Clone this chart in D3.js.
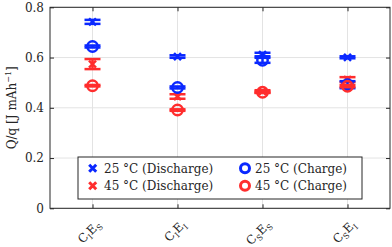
<!DOCTYPE html>
<html><head><meta charset="utf-8">
<script src="https://cdn.jsdelivr.net/npm/d3@7"></script>
<style>
html,body{margin:0;padding:0;background:#fff;}
svg{display:block;}
svg text{font-family:"DejaVu Serif",serif !important;fill:#262626;}
</style></head>
<body>
<script>
const categories = [["C","I","E","S"],["C","I","E","I"],["C","S","E","S"],["C","S","E","I"]];
const dis25 = [0.742, 0.604, 0.612, 0.601];
const dis25Err = [0.008, 0.005, 0.007, 0.004];
const dis45 = [0.574, 0.445, 0.465, 0.512];
const dis45Err = [0.020, 0.009, 0.005, 0.010];
const chg25 = [0.644, 0.481, 0.589, 0.492];
const chg25Err = [0.004, 0.004, 0.010, 0.014];
const chg45 = [0.488, 0.391, 0.462, 0.486];
const chg45Err = [0.003, 0.003, 0.003, 0.004];
const yTicks = [0, 0.2, 0.4, 0.6, 0.8];
const legendLabels = ["25 °C (Discharge)","45 °C (Discharge)","25 °C (Charge)","45 °C (Charge)"];

const W = 392, H = 247;
const blue = "#0a28ff", red = "#ff2d2d", axisC = "#262626";
const svg = d3.select("body").append("svg").attr("width", W).attr("height", H);
const L = 50, R = 390, T = 7.3, B = 208.3;
const x = d3.scaleLinear().domain([0.5, 4.5]).range([L, R]);
const y = d3.scaleLinear().domain([0, 0.8]).range([B, T]);
const idx = d3.range(categories.length);
const FS = 12;

// grid
const grid = svg.append("g").attr("stroke", "#e3e3e3").attr("stroke-width", 1);
idx.forEach(i => grid.append("line").attr("x1", x(i+1)).attr("x2", x(i+1)).attr("y1", T).attr("y2", B));
yTicks.forEach(t => grid.append("line").attr("x1", L).attr("x2", R).attr("y1", y(t)).attr("y2", y(t)));

// axes
const ax = svg.append("g").attr("transform", `translate(${L},0)`)
  .call(d3.axisLeft(y).tickValues(yTicks).tickSize(-4).tickPadding(6).tickFormat(d => d === 0 ? "0" : d3.format(".1f")(d)));
ax.select(".domain").remove();
ax.selectAll("line").attr("stroke", axisC);
ax.selectAll("text").attr("font-size", FS).attr("fill", axisC);
const axR = svg.append("g").attr("transform", `translate(${R},0)`)
  .call(d3.axisRight(y).tickValues(yTicks).tickSize(-4).tickFormat(""));
axR.select(".domain").remove();
axR.selectAll("line").attr("stroke", axisC);
const axB = svg.append("g").attr("transform", `translate(0,${B})`)
  .call(d3.axisBottom(x).tickValues(idx.map(i => i+1)).tickSize(-4).tickFormat(""));
axB.select(".domain").remove();
axB.selectAll("line").attr("stroke", axisC);
const axT = svg.append("g").attr("transform", `translate(0,${T})`)
  .call(d3.axisTop(x).tickValues(idx.map(i => i+1)).tickSize(-4).tickFormat(""));
axT.select(".domain").remove();
axT.selectAll("line").attr("stroke", axisC);
svg.append("rect").attr("x", L).attr("y", T).attr("width", R-L).attr("height", B-T)
  .attr("fill", "none").attr("stroke", axisC).attr("stroke-width", 1);

// x tick labels
idx.forEach(i => {
  const c = categories[i];
  const t = svg.append("text").attr("text-anchor", "end").attr("font-size", FS)
    .attr("transform", `translate(${x(i+1)+9},${B+17}) rotate(-45)`);
  t.append("tspan").text(c[0]);
  t.append("tspan").attr("font-size", 8).attr("dy", 3).text(c[1]);
  t.append("tspan").attr("dy", -3).text(c[2]);
  t.append("tspan").attr("font-size", 8).attr("dy", 3).text(c[3]);
});

// y label
const yl = svg.append("text").attr("text-anchor", "middle").attr("font-size", FS)
  .attr("transform", `translate(16,${(T+B)/2}) rotate(-90)`);
yl.append("tspan").text("Q/q [J mAh");
yl.append("tspan").attr("font-size", 8).attr("dy", -5).text("−1");
yl.append("tspan").attr("dy", 5).text("]");

// series
const cap = 8, sw = 2.5;
function errbars(vals, errs, color) {
  const g = svg.append("g").attr("stroke", color).attr("stroke-width", sw).attr("fill", "none");
  idx.forEach(i => {
    const cx = x(i+1), lo = y(vals[i]-errs[i]), hi = y(vals[i]+errs[i]);
    g.append("line").attr("x1", cx).attr("x2", cx).attr("y1", lo).attr("y2", hi);
    g.append("line").attr("x1", cx-cap).attr("x2", cx+cap).attr("y1", lo).attr("y2", lo);
    g.append("line").attr("x1", cx-cap).attr("x2", cx+cap).attr("y1", hi).attr("y2", hi);
  });
  return g;
}
function crossMark(g, cx, cy, s) {
  g.append("path").attr("d", `M${cx-s},${cy-s}L${cx+s},${cy+s}M${cx-s},${cy+s}L${cx+s},${cy-s}`);
}
function drawDis(vals, errs, color) {
  const g = errbars(vals, errs, color);
  idx.forEach(i => crossMark(g, x(i+1), y(vals[i]), 3.5));
}
function drawChg(vals, errs, color) {
  const g = errbars(vals, errs, color);
  idx.forEach(i => g.append("circle").attr("cx", x(i+1)).attr("cy", y(vals[i])).attr("r", 5.2));
}
drawDis(dis25, dis25Err, blue);
drawDis(dis45, dis45Err, red);
drawChg(chg25, chg25Err, blue);
drawChg(chg45, chg45Err, red);

// legend
const lg = svg.append("g");
lg.append("rect").attr("x", 78).attr("y", 157).attr("width", 284).attr("height", 42)
  .attr("fill", "#fff").attr("stroke", axisC).attr("stroke-width", 1);
const rows = [168.3, 185.7];
const items = [
  {lab: legendLabels[0], c: blue, m: "x", mx: 92.7, tx: 104, ry: rows[0]},
  {lab: legendLabels[1], c: red, m: "x", mx: 92.7, tx: 104, ry: rows[1]},
  {lab: legendLabels[2], c: blue, m: "o", mx: 245, tx: 255, ry: rows[0]},
  {lab: legendLabels[3], c: red, m: "o", mx: 245, tx: 255, ry: rows[1]}
];
items.forEach(it => {
  const g = lg.append("g").attr("stroke", it.c).attr("stroke-width", 3).attr("fill", "none");
  if (it.m === "x") crossMark(g, it.mx, it.ry, 3.5);
  else g.append("circle").attr("cx", it.mx).attr("cy", it.ry).attr("r", 4.5);
  lg.append("text").attr("x", it.tx).attr("y", it.ry).attr("dy", "0.35em").attr("font-size", FS).text(it.lab);
});
</script>
</body></html>
